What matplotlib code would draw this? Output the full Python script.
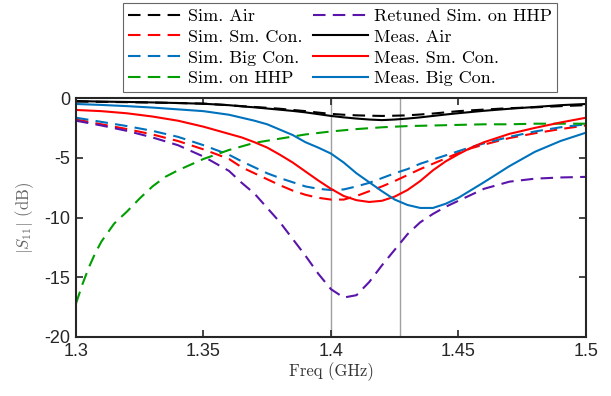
import matplotlib
matplotlib.use("Agg")
import matplotlib.pyplot as plt

freq = [1.30, 1.31, 1.32, 1.33, 1.34, 1.35, 1.36, 1.365, 1.37, 1.375, 1.38, 1.385,
        1.39, 1.395, 1.40, 1.405, 1.41, 1.415, 1.42, 1.425, 1.43, 1.435, 1.44,
        1.445, 1.45, 1.455, 1.46, 1.47, 1.48, 1.49, 1.50]

sim_air = [-0.3, -0.32, -0.35, -0.38, -0.42, -0.47, -0.6, -0.68, -0.75, -0.82, -0.9, -1.0,
           -1.1, -1.22, -1.33, -1.4, -1.45, -1.48, -1.5, -1.48, -1.45, -1.38, -1.3,
           -1.2, -1.1, -1.03, -0.97, -0.85, -0.78, -0.68, -0.6]
sim_sm_con = [-1.8, -2.2, -2.6, -3.05, -3.6, -4.3, -5.1, -5.8, -6.3, -6.8, -7.3, -7.75,
              -8.1, -8.35, -8.5, -8.5, -8.2, -7.8, -7.4, -6.95, -6.45, -5.95, -5.5,
              -5.05, -4.6, -4.2, -3.9, -3.35, -2.95, -2.6, -2.3]
sim_big_con = [-1.65, -2.0, -2.35, -2.75, -3.25, -3.95, -4.75, -5.3, -5.8, -6.3, -6.7, -7.05,
               -7.4, -7.6, -7.7, -7.65, -7.4, -7.1, -6.7, -6.3, -5.95, -5.5, -5.15,
               -4.8, -4.45, -4.1, -3.8, -3.25, -2.8, -2.45, -2.2]
retuned_hhp = [-1.9, -2.3, -2.75, -3.3, -3.95, -4.9, -6.1, -7.1, -8.0, -9.2, -10.4, -11.8,
               -13.2, -14.7, -16.0, -16.7, -16.5, -15.4, -14.0, -12.7, -11.4, -10.4, -9.7,
               -9.1, -8.6, -8.1, -7.6, -7.0, -6.75, -6.65, -6.6]
meas_air = [-0.25, -0.3, -0.33, -0.37, -0.42, -0.48, -0.6, -0.7, -0.78, -0.88, -0.98, -1.08,
            -1.2, -1.35, -1.5, -1.62, -1.72, -1.8, -1.85, -1.8, -1.72, -1.62, -1.5,
            -1.38, -1.27, -1.17, -1.07, -0.9, -0.75, -0.6, -0.5]
meas_sm_con = [-1.0, -1.1, -1.28, -1.55, -1.9, -2.4, -3.0, -3.3, -3.7, -4.15, -4.75, -5.4,
               -6.15, -6.9, -7.6, -8.2, -8.55, -8.7, -8.6, -8.25, -7.7, -6.95, -6.05,
               -5.3, -4.7, -4.15, -3.7, -3.0, -2.5, -2.05, -1.65]
meas_big_con = [-0.5, -0.58, -0.68, -0.8, -0.95, -1.1, -1.4, -1.65, -1.9, -2.2, -2.65, -3.1,
                -3.7, -4.15, -4.65, -5.4, -6.3, -7.05, -7.8, -8.5, -8.95, -9.2, -9.2,
                -8.85, -8.35, -7.7, -7.05, -5.7, -4.5, -3.6, -2.9]

freq_hhp = [1.30, 1.3025, 1.305, 1.3075, 1.31, 1.315, 1.32, 1.325, 1.33, 1.335, 1.34, 1.35,
            1.36, 1.37, 1.38, 1.39, 1.40, 1.41, 1.42, 1.43, 1.44, 1.45, 1.46, 1.47,
            1.48, 1.49, 1.50]
sim_hhp = [-17.2, -15.6, -14.2, -13.0, -12.0, -10.5, -9.5, -8.4, -7.4, -6.6, -6.05, -5.1,
           -4.35, -3.75, -3.4, -3.05, -2.8, -2.6, -2.45, -2.35, -2.3, -2.25, -2.2, -2.2,
           -2.15, -2.15, -2.15]

marker_freqs = [1.40, 1.427]

labels = ["Sim. Air", "Sim. Sm. Con.", "Sim. Big Con.", "Sim. on HHP",
          "Retuned Sim. on HHP", "Meas. Air", "Meas. Sm. Con.", "Meas. Big Con."]

plt.rcParams['mathtext.fontset'] = 'cm'
plt.rcParams['axes.unicode_minus'] = False

BLUE = '#0072BD'
RED = '#FF0000'
GREEN = '#009E00'
PURPLE = '#5A14AA'
BLACK = '#000000'

fig = plt.figure(figsize=(6.11, 3.96), dpi=100)
ax = fig.add_axes([0.1244, 0.149, 0.8346, 0.6035])

for xv in marker_freqs:
    ax.axvline(xv, color='#a0a0a0', lw=1.0, zorder=1)

dash = (6, 3.5)
lw = 1.5
handles = []
handles += ax.plot(freq, sim_air, color=BLACK, lw=lw, dashes=dash)
handles += ax.plot(freq, sim_sm_con, color=RED, lw=lw, dashes=dash)
handles += ax.plot(freq, sim_big_con, color=BLUE, lw=lw, dashes=dash)
handles += ax.plot(freq_hhp, sim_hhp, color=GREEN, lw=lw, dashes=dash)
handles += ax.plot(freq, retuned_hhp, color=PURPLE, lw=lw, dashes=dash)
handles += ax.plot(freq, meas_air, color=BLACK, lw=lw)
handles += ax.plot(freq, meas_sm_con, color=RED, lw=lw)
handles += ax.plot(freq, meas_big_con, color=BLUE, lw=lw)

ax.set_xlim(1.3, 1.5)
ax.set_ylim(-20, 0)
ax.set_xticks([1.3, 1.35, 1.4, 1.45, 1.5])
ax.set_xticklabels(["1.3", "1.35", "1.4", "1.45", "1.5"])
ax.set_yticks([0, -5, -10, -15, -20])
ax.set_yticklabels(["0", "-5", "-10", "-15", "-20"])
ax.tick_params(direction='in', length=5, width=1.2, top=True, right=True,
               labelsize=13, colors='#262626', pad=4)
for lab in ax.get_xticklabels() + ax.get_yticklabels():
    lab.set_fontfamily('Liberation Sans')
for sp in ax.spines.values():
    sp.set_linewidth(1.5)
    sp.set_color('#262626')

ax.set_xlabel("Freq (GHz)", fontfamily='cmr10', fontsize=12, color='#333333', labelpad=2)
ax.set_ylabel(r"$|S_{11}|$ (dB)", fontfamily='cmr10', fontsize=12, color='#666666', labelpad=6)

leg = fig.legend(handles, labels, ncol=2, loc='upper center',
                 bbox_to_anchor=(0.556, 0.993), prop={'family': 'cmr10', 'size': 13},
                 fancybox=False, frameon=True, handlelength=3.05, handletextpad=0.28,
                 columnspacing=0.6, labelspacing=0.29, borderpad=0.3, borderaxespad=0.0)
leg.get_frame().set_edgecolor('#404040')
leg.get_frame().set_linewidth(0.8)

fig.savefig("out.png", dpi=100)
